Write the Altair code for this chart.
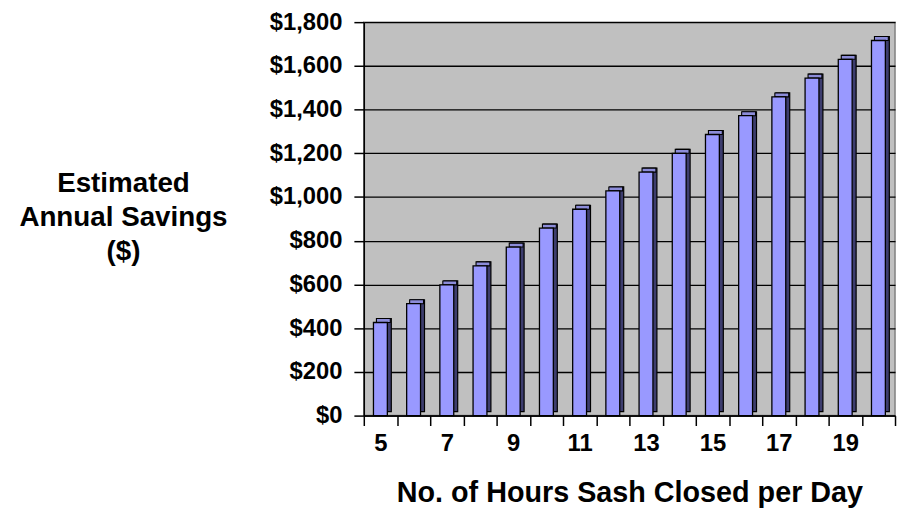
import altair as alt
import pandas as pd

# Data
hours = [5, 6, 7, 8, 9, 10, 11, 12, 13, 14, 15, 16, 17, 18, 19, 20]
savings = [426, 512, 598, 685, 771, 858, 944, 1028, 1114, 1200, 1286, 1372, 1458, 1544, 1630, 1716]
y_ticks = [0, 200, 400, 600, 800, 1000, 1200, 1400, 1600, 1800]

df = pd.DataFrame({"hours": hours, "savings": savings})

FONT = "Liberation Sans"

x_enc = alt.X(
    "hours:O",
    scale=alt.Scale(paddingInner=0, paddingOuter=0),
    title="No. of Hours Sash Closed per Day",
    axis=alt.Axis(
        labelExpr="datum.value % 2 == 1 ? datum.label : ''",
        labelAngle=0,
        labelFont=FONT,
        labelFontSize=24,
        labelFontWeight="bold",
        labelColor="black",
        labelPadding=6,
        tickBand="extent",
        tickSize=10,
        tickWidth=1.5,
        tickColor="black",
        domainColor="black",
        domainWidth=1.5,
        titleFont=FONT,
        titleFontSize=29,
        titleFontWeight="bold",
        titleColor="black",
        titleBaseline="alphabetic",
        titleY=87,
    ),
)

y_enc = alt.Y(
    "savings:Q",
    scale=alt.Scale(domain=[0, 1800], nice=False),
    title=["Estimated", "Annual Savings", "($)"],
    axis=alt.Axis(
        values=y_ticks,
        format="$,.0f",
        labelFont=FONT,
        labelFontSize=24,
        labelFontWeight="bold",
        labelColor="black",
        labelPadding=12,
        tickSize=10,
        tickWidth=1.5,
        tickColor="black",
        domainColor="black",
        domainWidth=1.5,
        grid=True,
        gridColor="black",
        gridWidth=1.3,
        titleFont=FONT,
        titleFontSize=28,
        titleFontWeight="bold",
        titleColor="black",
        titleAngle=0,
        titleAlign="center",
        titleBaseline="middle",
        titleLineHeight=34,
        titleX=-243,
        titleY=163,
    ),
)

# side face (dark extrusion behind the front face)
depth = alt.Chart(df).mark_bar(
    size=14,
    xOffset=4,
    x2Offset=4,
    yOffset=-4,
    y2Offset=-4,
    fill="#3d3d6e",
    stroke="black",
    strokeWidth=1.2,
).encode(x=x_enc, y=y_enc)

# top face
top = alt.Chart(df).mark_bar(
    size=14,
    xOffset=3,
    yOffset=-4,
    y2Offset=0,
    fill="#8c8cd9",
    stroke="black",
    strokeWidth=1.1,
).encode(x=x_enc, y=y_enc, y2="savings:Q")

# front face
front = alt.Chart(df).mark_bar(
    size=14,
    fill="#9999ff",
    stroke="black",
    strokeWidth=1.3,
).encode(x=x_enc, y=y_enc)

chart = (
    alt.layer(depth, top, front)
    .properties(
        width=536,
        height=397,
        autosize=alt.AutoSizeParams(type="none"),
        padding={"left": 359, "top": 12, "right": 2, "bottom": 96},
        background="white",
    )
    .configure_view(fill="#c0c0c0", stroke="#808080", strokeWidth=1.5)
)

chart.save("out.html", embed_options={"renderer": "svg", "actions": False})
